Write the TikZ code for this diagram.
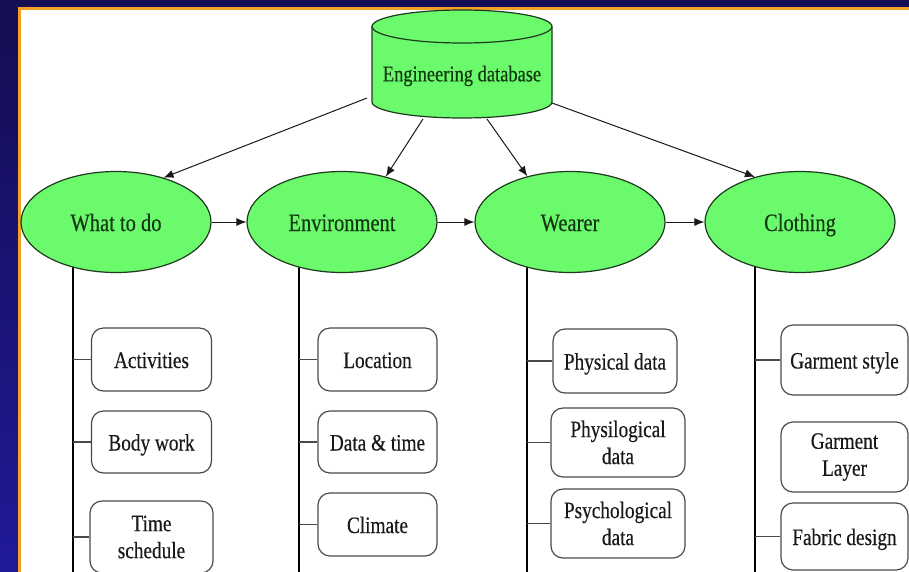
\documentclass[tikz,border=0pt]{standalone}
\usepackage{fontspec}
\setmainfont{Liberation Serif}[FakeStretch=0.82, FakeBold=0.35]
\usetikzlibrary{arrows.meta,calc,backgrounds,shapes.geometric}

\definecolor{navy}{HTML}{150E55}
\definecolor{stripblue}{HTML}{1F1A98}
\definecolor{frameorange}{HTML}{F4A025}
\definecolor{leaf}{HTML}{6BFA6B}
\definecolor{leafline}{HTML}{1E3A1E}
\definecolor{leaftext}{HTML}{133813}
\definecolor{boxline}{HTML}{4A4A4A}

\tikzset{
  topic/.style={ellipse, draw=leafline, fill=leaf, line width=1.2pt,
    minimum width=190pt, minimum height=101pt, inner sep=0pt,
    text height=18pt, text depth=0pt,
    text=leaftext, font=\fontsize{25}{28}\selectfont},
  item/.style n args={2}{draw=boxline, fill=white, rounded corners=12pt,
    line width=1.2pt, minimum width=#1pt, minimum height=#2pt,
    inner sep=0pt, align=center, text=black!90,
    font=\fontsize{23.5}{27}\selectfont},
  oneline/.style={text height=17pt, text depth=0pt},
  trunk/.style={line width=2.8pt, black},
  twig/.style={line width=1.4pt, boxline},
  feed/.style={-{Latex[length=10pt,width=8pt]}, line width=1pt, black!90},
}

\begin{document}
\begin{tikzpicture}[x=1pt,y=-1pt]
\useasboundingbox (0,0) rectangle (909,571);

% database cylinder
\path[fill=leaf, draw=leafline, line width=1.2pt]
  (372,26.5) -- (372,102)
  arc[start angle=180, end angle=360, x radius=90pt, y radius=16pt]
  -- (552,26.5)
  arc[start angle=0, end angle=180, x radius=90pt, y radius=16.5pt] -- cycle;
\draw[leafline, line width=1.2pt] (372,26.5)
  arc[start angle=180, end angle=360, x radius=90pt, y radius=16.5pt];
\node[text=leaftext, font=\fontsize{22.5}{26}\selectfont] (db) at (462,76) {Engineering database};

% main topics
\node[topic] (wtd) at (116,222) {What to do};
\node[topic] (env) at (342,222) {Environment};
\node[topic] (wea) at (570,222) {Wearer};
\node[topic] (clo) at (800,222) {Clothing};

% detail boxes
\node[item={120}{63}, oneline] (act) at (151.5,359.5) {Activities};
\node[item={120}{62}, oneline] (bod) at (151.5,442) {Body work};
\node[item={123}{72}] (tim) at (151.5,537) {Time\\schedule};

\node[item={119}{63}, oneline] (loc) at (377.5,359.5) {Location};
\node[item={119}{62}, oneline] (dat) at (377.5,442) {Data \& time};
\node[item={119}{63}, oneline] (cli) at (377.5,524.5) {Climate};

\node[item={124}{64}, oneline] (phy) at (615,361) {Physical data};
\node[item={134}{69}] (psl) at (618,442.5) {Physilogical\\data};
\node[item={134}{69}] (psy) at (618,523.5) {Psychological\\data};

\node[item={127}{70}, oneline] (gst) at (844.5,360) {Garment style};
\node[item={127}{70}] (gla) at (844.5,457) {Garment\\Layer};
\node[item={127}{67}, oneline] (fab) at (844.5,536.5) {Fabric design};

% arrows from the database
\draw[feed] ($(db.center)+(-95,22)$) -- (wtd.43);
\draw[feed] ($(db.center)+(-39,43)$) -- (env.46);
\draw[feed] ($(db.center)+(25,43)$) -- (wea.133);
\draw[feed] ($(db.center)+(90,27)$) -- (clo.135);

% flow between topics
\draw[feed] (wtd.east) -- (env.west);
\draw[feed] (env.east) -- (wea.west);
\draw[feed] (wea.east) -- (clo.west);

\begin{pgfonlayer}{background}
  % slide frame
  \fill[navy] (0,0) rectangle (909,571);
  \shade[top color=navy, bottom color=stripblue] (0,30) rectangle (18,571);
  \fill[frameorange] (18,6.5) rectangle (912,575);
  \fill[white] (21,9.5) rectangle (912,575);
  % trunks below each topic
  \coordinate (b1) at (73,575);
  \coordinate (b2) at (299,575);
  \coordinate (b3) at (527,575);
  \coordinate (b4) at (755,575);
  \draw[trunk] (b1 |- wtd.center) -- (b1);
  \draw[trunk] (b2 |- env.center) -- (b2);
  \draw[trunk] (b3 |- wea.center) -- (b3);
  \draw[trunk] (b4 |- clo.center) -- (b4);
  % branches to the boxes
  \foreach \n in {act,bod,tim} \draw[twig] (\n.west) -- (\n.west -| b1);
  \foreach \n in {loc,dat,cli} \draw[twig] (\n.west) -- (\n.west -| b2);
  \foreach \n in {phy,psl,psy} \draw[twig] (\n.west) -- (\n.west -| b3);
  \draw[twig] (gst.west) -- (gst.west -| b4);
  \draw[twig] ($(gla.west)+(0,-3)$) -- ($(gla.west)+(0,-3)$ -| b4);
  \draw[twig] (fab.west) -- (fab.west -| b4);
\end{pgfonlayer}
\end{tikzpicture}
\end{document}
